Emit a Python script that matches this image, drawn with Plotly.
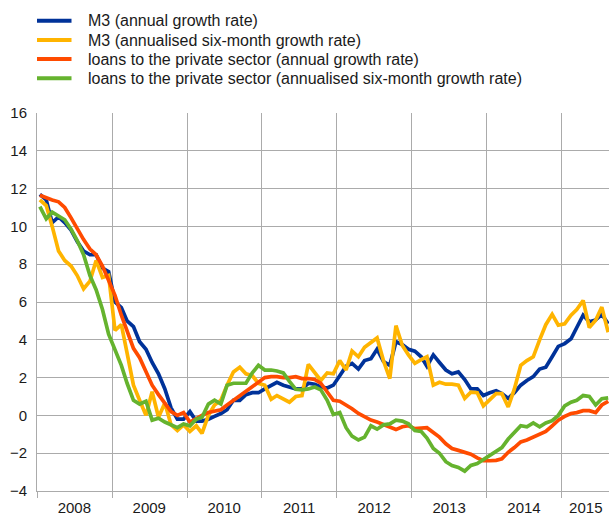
import pandas as pd
import plotly.graph_objects as go

# Monthly observations, January 2008 - August 2015 (plotted mid-month)
months = pd.date_range("2008-01-01", periods=92, freq="MS") + pd.Timedelta(days=14)

m3_annual = [
    11.7, 11.4, 10.2, 10.5, 10.2, 9.8, 9.2, 8.7, 8.5, 8.5, 7.8, 7.6,
    6.0, 5.7, 5.0, 4.7, 3.9, 3.5, 2.8, 2.2, 1.4, 0.4, -0.2, -0.2,
    0.2, -0.3, -0.3, -0.2, -0.05, 0.1, 0.3, 0.8, 0.8, 1.1, 1.2, 1.2,
    1.4, 1.6, 1.75, 1.6, 1.5, 1.4, 1.4, 1.7, 1.65, 1.5, 1.45, 1.6,
    2.1, 2.6, 2.75, 2.45, 2.9, 3.0, 3.5, 2.85, 2.65, 3.9, 3.75, 3.5,
    3.4, 3.1, 2.6, 3.2, 2.8, 2.4, 2.2, 2.3, 1.9, 1.4, 1.4, 1.05,
    1.2, 1.3, 1.15, 0.9, 1.2, 1.6, 1.85, 2.05, 2.45, 2.55, 3.1, 3.65,
    3.8, 4.05, 4.65, 5.3, 4.95, 5.05, 5.35, 4.85,
]
m3_six_month = [
    11.4, 11.1, 10.0, 8.7, 8.2, 7.9, 7.4, 6.7, 7.1, 8.2, 7.3, 7.4,
    4.5, 4.8, 3.3, 1.6, 0.8, 0.0, 1.25, -0.1, 0.65, -0.5, -0.8, -0.5,
    -0.85, -0.55, -0.95, 0.0, 0.55, 0.8, 1.6, 2.3, 2.55, 2.2, 2.1, 1.7,
    1.6, 0.85, 1.05, 0.85, 0.7, 1.0, 1.05, 2.7, 2.25, 1.85, 2.25, 2.2,
    2.9, 2.4, 3.4, 3.1, 3.6, 3.85, 4.1, 2.9, 1.95, 4.75, 3.7, 3.2,
    2.75, 2.95, 3.1, 1.6, 1.75, 1.65, 1.65, 1.6, 0.9, 1.23, 1.2, 0.5,
    0.85, 1.15, 1.15, 0.45, 1.4, 2.65, 2.9, 3.1, 4.0, 4.8, 5.35, 4.78,
    4.85, 5.3, 5.6, 6.08, 4.65, 5.03, 5.73, 4.4,
]
loans_annual = [
    11.65, 11.5, 11.4, 11.3, 11.0, 10.45, 9.85, 9.3, 8.8, 8.5, 7.9, 7.15,
    6.35, 5.3, 4.5, 3.55, 3.05, 2.3, 1.6, 1.1, 0.65, 0.2, 0.0, 0.15,
    -0.35, -0.15, 0.0, 0.15, 0.2, 0.3, 0.55, 0.8, 1.05, 1.3, 1.55, 1.8,
    2.0, 2.05, 2.05, 2.0, 2.0, 2.05, 1.95, 1.95, 1.9, 1.7, 1.25, 0.8,
    0.75, 0.55, 0.35, 0.1, -0.1, -0.25, -0.35, -0.5, -0.65, -0.75, -0.6, -0.55,
    -0.7, -0.65, -0.65, -0.9, -1.15, -1.5, -1.75, -1.85, -1.95, -2.05, -2.25, -2.4,
    -2.4, -2.38, -2.3, -1.95, -1.7, -1.4, -1.3, -1.15, -1.0, -0.85, -0.55, -0.25,
    -0.05, 0.1, 0.15, 0.25, 0.25, 0.15, 0.55, 0.75,
]
loans_six_month = [
    11.05, 10.4, 10.75, 10.55, 10.35, 9.85, 9.25, 8.5, 7.4, 6.65, 5.6, 4.3,
    3.5, 2.65, 1.7, 0.8, 0.6, 0.75, -0.25, -0.15, -0.35, -0.5, -0.65, -0.45,
    -0.55, -0.2, -0.1, 0.6, 0.8, 0.6, 1.6, 1.7, 1.7, 1.7, 2.25, 2.65,
    2.4, 2.4, 2.35, 2.25, 1.8, 1.38, 1.35, 1.4, 1.5, 1.35, 0.8, 0.05,
    0.15, -0.65, -1.1, -1.3, -1.15, -0.55, -0.73, -0.5, -0.45, -0.25, -0.3, -0.45,
    -0.8, -0.85, -1.2, -1.75, -2.0, -2.45, -2.65, -2.75, -2.95, -2.65, -2.55, -2.35,
    -2.1, -1.9, -1.7, -1.25, -0.88, -0.55, -0.6, -0.4, -0.6, -0.4, -0.28, 0.0,
    0.5, 0.7, 0.8, 1.05, 1.0, 0.55, 0.88, 0.93,
]

series_names = [
    "M3 (annual growth rate)",
    "M3 (annualised six-month growth rate)",
    "loans to the private sector (annual growth rate)",
    "loans to the private sector (annualised six-month growth rate)",
]
series_values = [m3_annual, m3_six_month, loans_annual, loans_six_month]
series_colors = ["#003299", "#FFB400", "#FF4B00", "#65B32E"]

year_labels = ["2008", "2009", "2010", "2011", "2012", "2013", "2014", "2015"]
year_label_pos = ["2008-07-01", "2009-07-01", "2010-07-01", "2011-07-01",
                  "2012-07-01", "2013-07-01", "2014-07-01", "2015-04-28"]
year_starts = [f"{y}-01-01" for y in range(2008, 2016)]

W, H = 609, 517
ML, MR, MT, MB = 37, 0, 113, 26
PW, PH = W - ML - MR, H - MT - MB


def px_x(px):
    return (px - ML) / PW


def px_y(py):
    return (H - MB - py) / PH


fig = go.Figure()
for name, vals, col in zip(series_names, series_values, series_colors):
    fig.add_trace(go.Scatter(x=months, y=vals, name=name, mode="lines",
                             line=dict(color=col, width=3.7)))

# Legend drawn as key lines + text (layout of the original chart)
legend_rows = [20.7, 40.0, 59.0, 78.3]
for name, col, row in zip(series_names, series_colors, legend_rows):
    fig.add_shape(type="line", xref="paper", yref="paper",
                  x0=px_x(37), x1=px_x(71.5), y0=px_y(row), y1=px_y(row),
                  line=dict(color=col, width=4))
    fig.add_annotation(xref="paper", yref="paper", x=px_x(86), y=px_y(row),
                       text=name, showarrow=False, xanchor="left",
                       yanchor="middle", font=dict(size=16, color="#1a1a1a"))

grid = "#ababab"
fig.update_layout(
    width=W, height=H,
    margin=dict(l=ML, r=MR, t=MT, b=MB, autoexpand=False),
    paper_bgcolor="white", plot_bgcolor="white",
    font=dict(family="Liberation Sans, Arial, sans-serif", color="#1a1a1a"),
    showlegend=False,
    xaxis=dict(
        type="date", range=["2008-01-01", "2015-08-19"], automargin=False,
        tickmode="array", tickvals=year_label_pos, ticktext=year_labels,
        showgrid=False, ticks="", tickfont=dict(size=15),
        ticklabelstandoff=3,
        minor=dict(tickmode="array", tickvals=year_starts, showgrid=True,
                   gridcolor=grid, gridwidth=1, ticks="outside",
                   ticklen=6, tickcolor=grid, tickwidth=1),
        showline=True, linecolor=grid, linewidth=1, zeroline=False,
    ),
    yaxis=dict(
        range=[-4, 16], dtick=2, tick0=0, showgrid=True, gridcolor=grid,
        gridwidth=1, zeroline=False, ticks="", tickfont=dict(size=15),
        automargin=False,
        ticklabelstandoff=6, showline=True, linecolor=grid, linewidth=1,
    ),
)

fig.write_html("out.html", config={"displayModeBar": False},
               post_script="document.body.style.margin='0';")
